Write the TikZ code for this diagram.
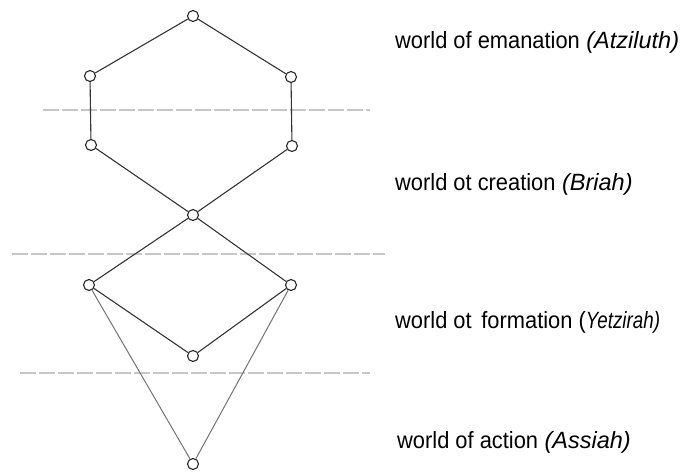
\documentclass[tikz,border=0pt]{standalone}
\usepackage{fontspec}
\setmainfont{Liberation Sans}
\usepackage{graphicx}
\begin{document}
\begin{tikzpicture}[x=1pt,y=-1pt,
  vtx/.style={circle,draw=black!85,line width=1.1pt,fill=white,minimum size=11pt,inner sep=0pt},
  edge/.style={draw=black!80,line width=1.1pt},
  lightedge/.style={draw=black!55,line width=1pt},
  level/.style={draw=black!22,line width=2pt,dash pattern=on 16pt off 3pt},
  lbl/.style={anchor=base west,inner sep=0pt,font=\fontsize{23.5}{27}\selectfont}]
\useasboundingbox (0,0) rectangle (683,474);
% levels
\coordinate (h1a) at (43,110); \coordinate (h1b) at (370,110);
\coordinate (h2a) at (12,254); \coordinate (h2b) at (385,254);
\coordinate (h3a) at (20,373); \coordinate (h3b) at (370,373);
\draw[level] (h1a) -- (h1b);
\draw[level] (h2a) -- (h2b);
\draw[level] (h3a) -- (h3b);
% vertices
\node[vtx] (top) at (193,16) {};
\node[vtx] (ul) at (90,76) {};
\node[vtx] (ur) at (291,77) {};
\node[vtx] (ll) at (91,145) {};
\node[vtx] (lr) at (292,146) {};
\node[vtx] (c) at (193,215) {};
\node[vtx] (dl) at (89,285) {};
\node[vtx] (dr) at (291,285) {};
\node[vtx] (db) at (193,356) {};
\node[vtx] (bot) at (193,464) {};
% edges
\draw[edge] (top) -- (ul);
\draw[edge] (top) -- (ur);
\draw[edge] (ul) -- (ll);
\draw[edge] (ur) -- (lr);
\draw[edge] (ll) -- (c);
\draw[edge] (lr) -- (c);
\draw[edge] (c) -- (dl);
\draw[edge] (c) -- (dr);
\draw[edge] (dl) -- (db);
\draw[edge] (dr) -- (db);
\draw[lightedge] (dl) -- (bot);
\draw[lightedge] (dr) -- (bot);
% labels
\node[lbl] (t1) at (395,48) {\scalebox{0.93}[1]{world of emanation} \textit{(Atziluth)}};
\node[lbl] (t2) at (395,190) {\scalebox{0.93}[1]{world ot creation} \textit{(Briah)}};
\node[lbl] (t3) at (395,328) {\scalebox{0.93}[1]{world ot\, formation (}\scalebox{0.8}[1]{\textit{Yetzirah)}}};
\node[lbl] (t4) at (397,448) {\scalebox{0.93}[1]{world of action} \textit{(Assiah)}};
\end{tikzpicture}
\end{document}
